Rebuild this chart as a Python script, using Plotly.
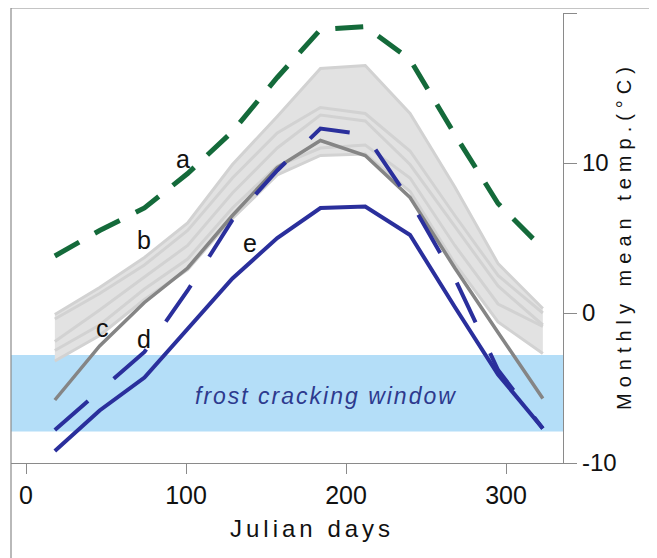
import numpy as np
import plotly.graph_objects as go

# ---------------- data ----------------
days = [18, 46, 74, 101, 129, 157, 184, 212, 240, 268, 295, 323]

a_green = [3.8, 5.5, 7.0, 9.3, 12.1, 15.7, 18.9, 19.1, 16.9, 11.9, 7.3, 4.3]
c_grey = [-5.8, -2.2, 0.7, 3.0, 6.5, 9.7, 11.5, 10.5, 7.7, 3.0, -1.3, -5.7]
d_blue = [-7.8, -5.2, -2.6, 1.5, 6.2, 9.5, 12.3, 11.9, 7.5, 2.3, -3.8, -7.7]
e_blue = [-9.2, -6.5, -4.3, -1.1, 2.3, 5.0, 7.0, 7.1, 5.2, 0.4, -4.1, -7.7]

b_1 = [-0.1, 1.7, 3.7, 6.0, 9.9, 13.1, 16.3, 16.5, 13.3, 8.4, 3.3, 0.3]
b_2 = [-0.4, 1.3, 3.2, 5.5, 9.0, 12.0, 13.7, 13.3, 10.8, 6.5, 2.5, 0.0]
b_3 = [-1.9, 0.2, 2.4, 4.5, 8.0, 11.0, 13.2, 12.8, 9.9, 5.8, 1.8, -0.8]
b_4 = [-3.2, -1.5, 0.9, 2.9, 6.3, 9.2, 10.5, 10.6, 8.1, 3.3, -0.6, -2.7]
b_5 = [-2.5, -0.8, 1.6, 3.6, 7.0, 9.8, 11.0, 11.2, 9.0, 4.5, 0.6, -0.9]

frost_window = [-7.9, -2.8]
frost_label = "frost cracking window"
frost_label_pos = [187.5, -5.5]

curve_labels = ["a", "b", "c", "d", "e"]
curve_label_x = [98, 74, 48, 74, 140]
curve_label_y = [10.3, 4.9, -1.0, -1.7, 4.7]

x_ticks = [0, 100, 200, 300]
x_tick_text = ["0", "100", "200", "300"]
y_ticks = [-10, 0, 10, 20]
y_tick_text = ["-10", "0", "10", "20"]
x_title = "Julian days"
y_title = "Monthly mean temp.(°C)"

# ---------------- figure ----------------
FONT = "Liberation Sans, Arial, sans-serif"
GREEN = "#146a3a"
BLUE = "#2a2f9c"
DGREY = "#858585"
LGREY_LINE = "#d2d2d2"
LGREY_FILL = "#e2e2e2"
AXIS = "#8a8a8a"

fig = go.Figure()

light = np.array([b_1, b_2, b_3, b_4, b_5])
lower = light.min(axis=0)
upper = light.max(axis=0)

fig.add_trace(go.Scatter(x=days, y=lower, mode="lines", line=dict(width=0, color=LGREY_FILL),
                         showlegend=False, hoverinfo="skip"))
fig.add_trace(go.Scatter(x=days, y=upper, mode="lines", fill="tonexty", fillcolor=LGREY_FILL,
                         line=dict(width=0, color=LGREY_FILL), showlegend=False, hoverinfo="skip"))
for s in [b_1, b_2, b_3, b_4, b_5]:
    fig.add_trace(go.Scatter(x=days, y=s, mode="lines", line=dict(width=3, color=LGREY_LINE),
                             showlegend=False))

fig.add_trace(go.Scatter(x=days, y=c_grey, mode="lines", line=dict(width=3.5, color=DGREY),
                         showlegend=False))
fig.add_trace(go.Scatter(x=days, y=a_green, mode="lines",
                         line=dict(width=5, color=GREEN, dash="28px,18px"), showlegend=False))
fig.add_trace(go.Scatter(x=days, y=e_blue, mode="lines", line=dict(width=4, color=BLUE),
                         showlegend=False))
fig.add_trace(go.Scatter(x=days, y=d_blue, mode="lines",
                         line=dict(width=4, color=BLUE, dash="44px,34px"), showlegend=False))

# frost cracking window band
fig.add_shape(type="rect", xref="paper", x0=0, x1=1, yref="y", y0=frost_window[0], y1=frost_window[1],
              fillcolor="#b4def8", line=dict(width=0), layer="below")

# frame lines (outer border)
fig.add_shape(type="line", xref="paper", yref="paper", x0=0, x1=0, y0=-0.22, y1=1.0111,
              line=dict(color=AXIS, width=1.2))
fig.add_shape(type="line", xref="paper", yref="paper", x0=0, x1=1.2, y0=1.0111, y1=1.0111,
              line=dict(color=AXIS, width=1.2))

fig.add_annotation(x=frost_label_pos[0], y=frost_label_pos[1], text=frost_label, showarrow=False,
                   font=dict(family=FONT, size=23, color="#2d3a8e", style="italic"),
                   xanchor="center", yanchor="middle")

for t, xx, yy in zip(curve_labels, curve_label_x, curve_label_y):
    fig.add_annotation(x=xx, y=yy, text=t, showarrow=False,
                       font=dict(family=FONT, size=25, color="#111111"),
                       xanchor="center", yanchor="middle")

# axis titles
fig.add_annotation(xref="paper", yref="paper", x=0.5453, y=-0.145, text=x_title, showarrow=False,
                   font=dict(family=FONT, size=24, color="#111111"), xanchor="center", yanchor="middle")
fig.add_annotation(xref="paper", yref="paper", x=1.1105, y=0.5067, text=y_title, showarrow=False,
                   textangle=-90, font=dict(family=FONT, size=20, color="#111111"),
                   xanchor="center", yanchor="middle")

fig.update_layout(
    width=657, height=558,
    margin=dict(l=3, r=102, t=5, b=103),
    paper_bgcolor="white", plot_bgcolor="white",
    showlegend=False,
    font=dict(family=FONT, color="#111111"),
)
fig.update_xaxes(range=[-9.4, 335.6], showgrid=False, zeroline=False, showline=True,
                 linecolor=AXIS, linewidth=1.2, ticks="outside", ticklen=10, tickcolor=AXIS,
                 tickwidth=1.2, tickvals=x_ticks, ticktext=x_tick_text,
                 tickfont=dict(family=FONT, size=25, color="#111111"))
fig.update_yaxes(range=[-10, 20], side="right", showgrid=False, zeroline=False, showline=True,
                 linecolor=AXIS, linewidth=1.2, ticks="outside", ticklen=13, tickcolor=AXIS,
                 tickwidth=1.2, tickvals=y_ticks, ticktext=y_tick_text,
                 tickfont=dict(family=FONT, size=24, color="#111111"))

post = """
var gd=document.getElementById('{plot_id}');
function ls(){
  gd.querySelectorAll('text').forEach(function(t){
    var s=t.textContent;
    if(s==='Julian days'){t.style.letterSpacing='4px';}
    else if(s.indexOf('Monthly')===0){t.style.letterSpacing='6px';}
    else if(s==='frost cracking window'){t.style.letterSpacing='2px';}
  });
}
ls();
gd.on('plotly_afterplot', ls);
"""

fig.write_html("out.html", post_script=post)
